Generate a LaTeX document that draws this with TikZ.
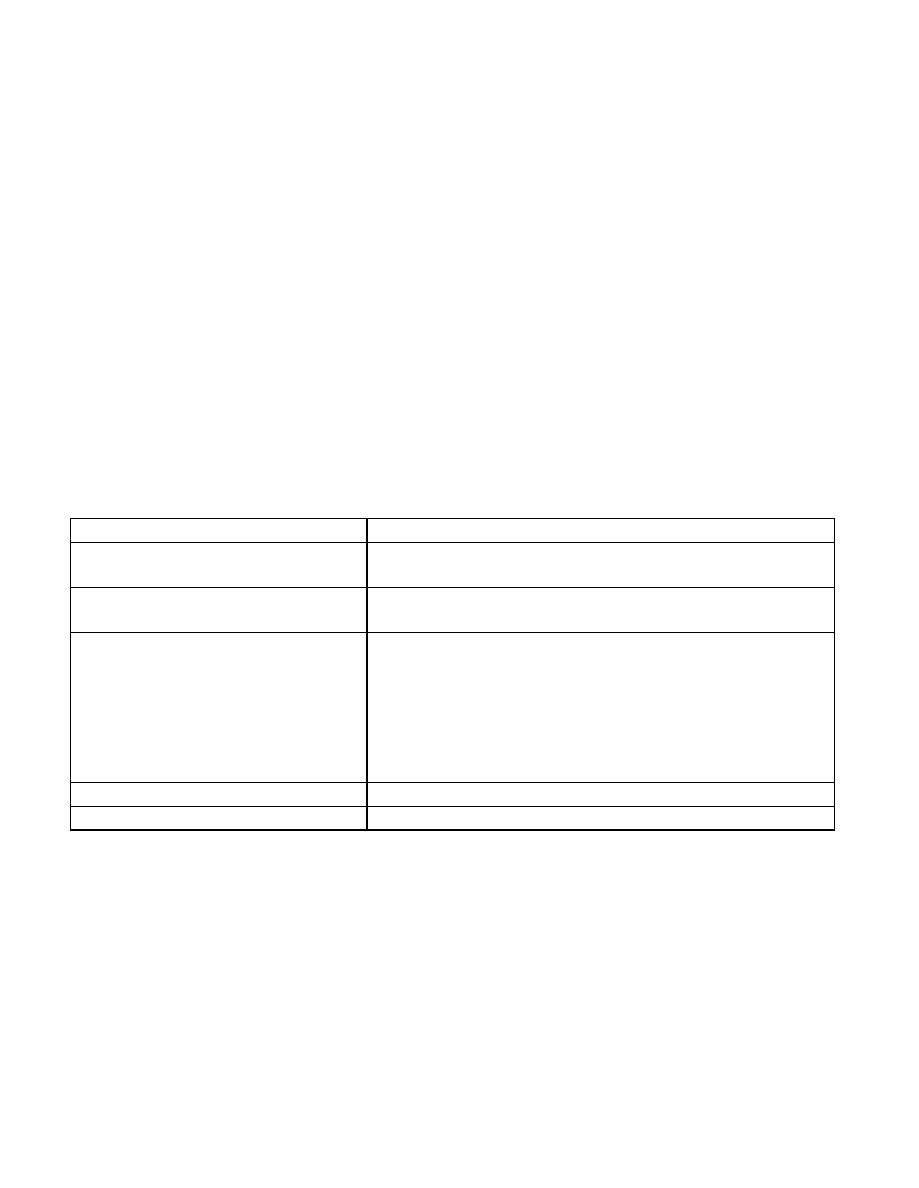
\documentclass[tikz,border=0pt]{standalone}
\begin{document}
\begin{tikzpicture}[x=1pt,y=-1pt,grid line/.style={draw=black,line width=1.3pt}]
\useasboundingbox[fill=white] (0,0) rectangle (918,1188);
\coordinate (tl) at (70.5,518.5);
\coordinate (br) at (834.5,830);
\draw[grid line] (tl) rectangle (br);
\draw[grid line] (367,518.5) -- (367,830);
\foreach \y in {542.5,587.5,632.5,782.5,806.5}{
  \draw[grid line] (70.5,\y) -- (834.5,\y);
}
\end{tikzpicture}
\end{document}
